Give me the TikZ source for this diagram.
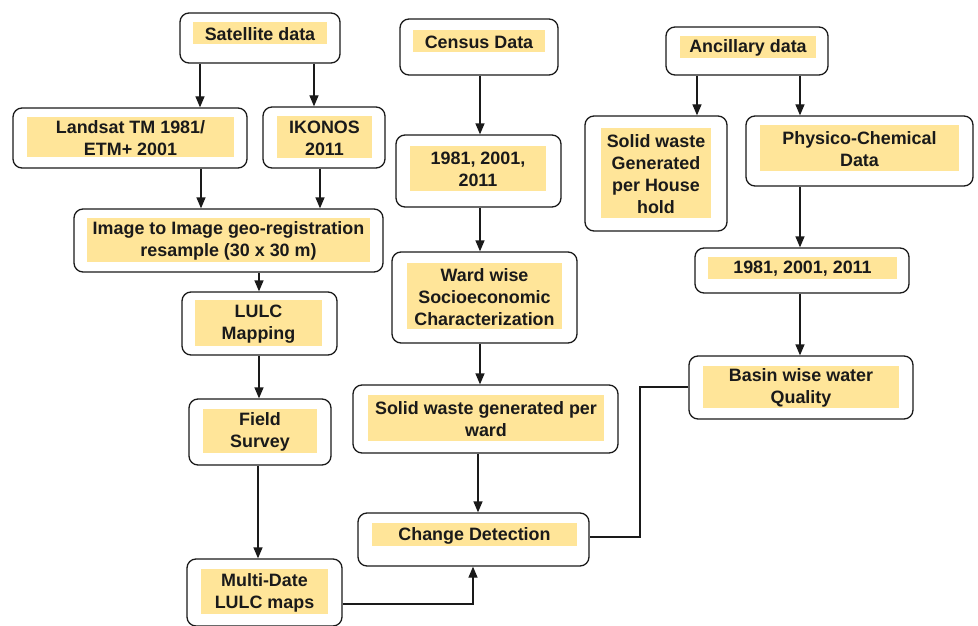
\documentclass[tikz,border=0pt]{standalone}
\usepackage{fontspec}
\setmainfont{Liberation Sans}
\usetikzlibrary{arrows.meta,fit}
\definecolor{hl}{HTML}{FFE599}
\definecolor{ln}{HTML}{1A1A1A}
\tikzset{
  outerbox/.style={draw=ln, line width=1.3pt, rounded corners=9pt, fill=white, inner sep=0pt},
  innerbox/.style={fill=hl, draw=none, inner sep=0pt},
  txt/.style={align=center, inner sep=0pt, text=ln, yshift=-1pt, font=\bfseries\fontsize{17.9}{22}\selectfont},
  arr/.style={draw=ln, line width=1.3pt, -{Triangle[width=9pt,length=11pt]}},
  con/.style={draw=ln, line width=1.3pt}
}
\newcommand\flowbox[6]{%
  \node[outerbox, fit={(#2) (#3)}] (#1) {};
  \node[innerbox, fit={(#4) (#5)}] (#1-i) {};
  \node[txt] (#1-t) at (#1-i.center) {#6};
}
\begin{document}
\begin{tikzpicture}[x=1pt,y=-1pt]
\useasboundingbox (0,0) rectangle (978,626);
% left column
\flowbox{sat}{180,13}{340,63}{193,22}{327,44}{Satellite data}
\flowbox{landsat}{13,108}{247,168}{27,117}{234,157}{Landsat TM 1981/\\ETM+ 2001}
\flowbox{ikonos}{263,107}{385,168}{277,116}{372,158}{IKONOS\\2011}
\flowbox{geo}{74,209}{383,272}{87,218}{370,262}{Image to Image geo-registration\\resample (30 x 30 m)}
\flowbox{lulc}{182,292}{337,355}{195,300}{322,346}{LULC\\Mapping}
\flowbox{field}{189,399}{331,465}{203,409}{317,453}{Field\\Survey}
\flowbox{multi}{187,559}{342,626}{201,569}{328,614}{Multi-Date\\LULC maps}
% middle column
\flowbox{census}{400,19}{558,75}{413,30}{545,52}{Census Data}
\flowbox{cyears}{396,135}{561,207}{410,146}{546,191}{1981, 2001,\\2011}
\flowbox{ward}{392,252}{577,343}{407,263}{562,329}{Ward wise\\Socioeconomic\\Characterization}
\flowbox{swward}{353,385}{618,453}{368,395}{604,441}{Solid waste generated per\\ward}
\flowbox{change}{358,513}{589,566}{372,523}{577,546}{Change Detection}
% right column
\flowbox{anc}{666,27}{828,75}{680,36}{816,58}{Ancillary data}
\flowbox{swhh}{585,116}{727,231}{601,128}{711,218}{Solid waste\\Generated\\per House\\hold}
\flowbox{phys}{746,116}{973,186}{760,125}{959,171}{Physico-Chemical\\Data}
\flowbox{ayears}{695,248}{909,293}{708,257}{897,279}{1981, 2001, 2011}
\flowbox{basin}{689,356}{913,419}{703,366}{899,408}{Basin wise water\\Quality}
% x positions for connectors
\coordinate (x200) at (200,0);
\coordinate (x201) at (201,0);
\coordinate (x314) at (314,0);
\coordinate (x320) at (320,0);
\coordinate (x259) at (259,0);
\coordinate (x258) at (258,0);
\coordinate (x480) at (480,0);
\coordinate (x478) at (478,0);
\coordinate (x473) at (473,0);
\coordinate (x697) at (697,0);
\coordinate (x800) at (800,0);
\coordinate (x640) at (640,0);
\coordinate (y604) at (0,604);
\coordinate (y387) at (0,387);
\coordinate (y537) at (0,537);
% arrows
\draw[arr] (sat.south -| x200) -- (landsat.north -| x200);
\draw[arr] (sat.south -| x314) -- (ikonos.north -| x314);
\draw[arr] (landsat.south -| x201) -- (geo.north -| x201);
\draw[arr] (ikonos.south -| x320) -- (geo.north -| x320);
\draw[arr] (geo.south -| x259) -- (lulc.north -| x259);
\draw[arr] (lulc.south -| x259) -- (field.north -| x259);
\draw[arr] (field.south -| x258) -- (multi.north -| x258);
\draw[arr] (census.south -| x480) -- (cyears.north -| x480);
\draw[arr] (cyears.south -| x480) -- (ward.north -| x480);
\draw[arr] (ward.south -| x480) -- (swward.north -| x480);
\draw[arr] (swward.south -| x478) -- (change.north -| x478);
\draw[arr] (anc.south -| x697) -- (swhh.north -| x697);
\draw[arr] (anc.south -| x800) -- (phys.north -| x800);
\draw[arr] (phys.south -| x800) -- (ayears.north -| x800);
\draw[arr] (ayears.south -| x800) -- (basin.north -| x800);
\draw[arr] (multi.east |- y604) -| (change.south -| x473);
\draw[con] (basin.west |- y387) -| (x640 |- y537) -- (change.east |- y537);
\end{tikzpicture}
\end{document}
